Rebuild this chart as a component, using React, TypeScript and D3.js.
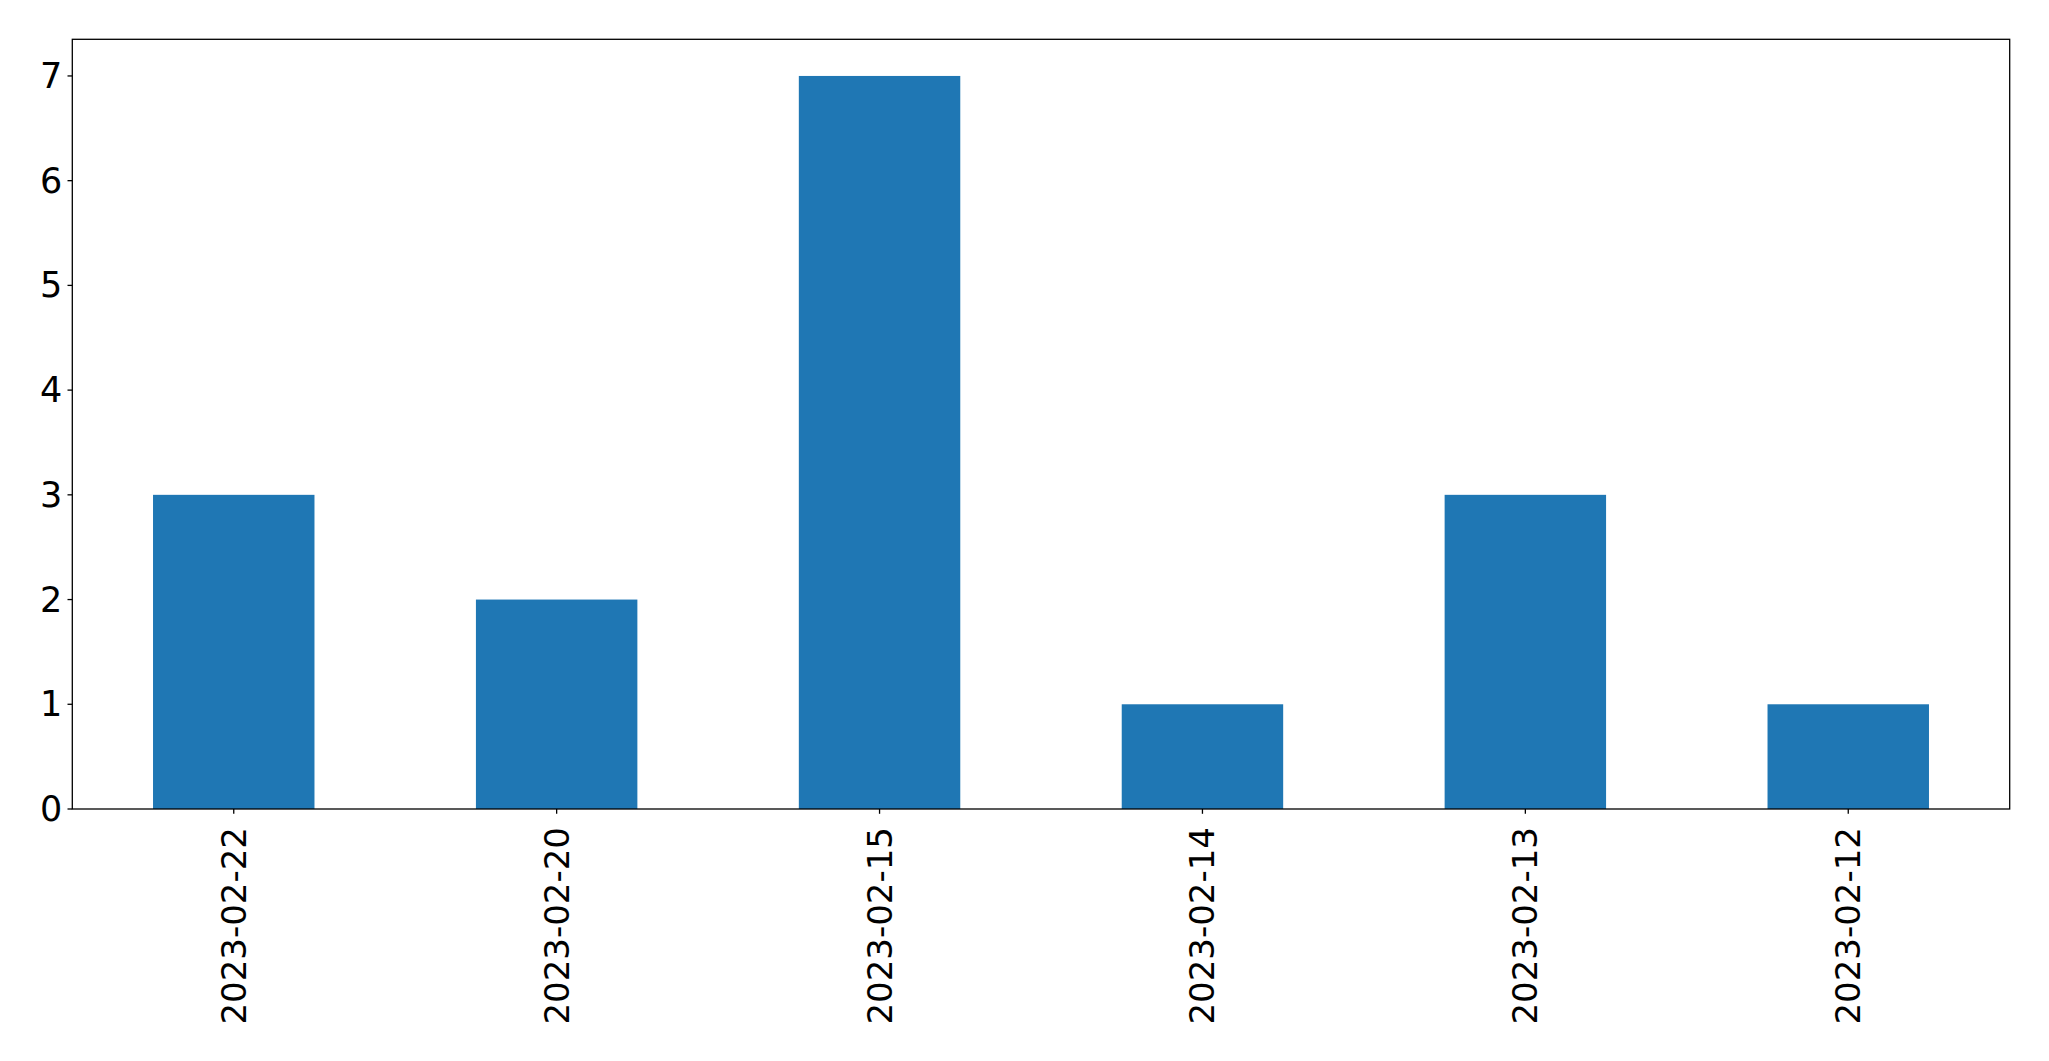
import React from "react";
import * as d3 from "d3";

const categories = ["2023-02-22", "2023-02-20", "2023-02-15", "2023-02-14", "2023-02-13", "2023-02-12"];
const counts = [3, 2, 7, 1, 3, 1];
const yTicks = [0, 1, 2, 3, 4, 5, 6, 7];

const W = 2049;
const H = 1061;
const M = { left: 72.3, right: 2009.7, top: 39.3, bottom: 809 };
const FONT = "DejaVu Sans";

export default function App() {
  const x = d3.scaleLinear().domain([-0.5, categories.length - 0.5]).range([M.left, M.right]);
  const y = d3.scaleLinear().domain([0, d3.max(counts)! * 1.05]).range([M.bottom, M.top]);
  const bw = x(0.25) - x(-0.25);
  return (
    <svg width={W} height={H} style={{ position: "absolute", left: 0, top: 0, background: "#fff" }}>
      {counts.map((v, i) => (
        <rect key={i} x={x(i) - bw / 2} y={y(v)} width={bw} height={y(0) - y(v)} fill="#1f77b4" />
      ))}
      <rect x={M.left} y={M.top} width={M.right - M.left} height={M.bottom - M.top} fill="none" stroke="#000" strokeWidth={1.3} />
      {yTicks.map((t) => (
        <g key={t}>
          <line x1={M.left - 4.8} x2={M.left} y1={y(t)} y2={y(t)} stroke="#000" strokeWidth={1.3} />
          <text x={M.left - 10} y={y(t)} textAnchor="end" dominantBaseline="central" fontFamily={FONT} fontSize={35} fill="#000">
            {t}
          </text>
        </g>
      ))}
      {categories.map((c, i) => (
        <g key={c}>
          <line x1={x(i)} x2={x(i)} y1={M.bottom} y2={M.bottom + 4.8} stroke="#000" strokeWidth={1.3} />
          <text
            transform={`translate(${x(i)},${M.bottom + 18}) rotate(-90)`}
            textAnchor="end"
            dominantBaseline="central"
            fontFamily={FONT}
            fontSize={34}
            fill="#000"
          >
            {c}
          </text>
        </g>
      ))}
    </svg>
  );
}
